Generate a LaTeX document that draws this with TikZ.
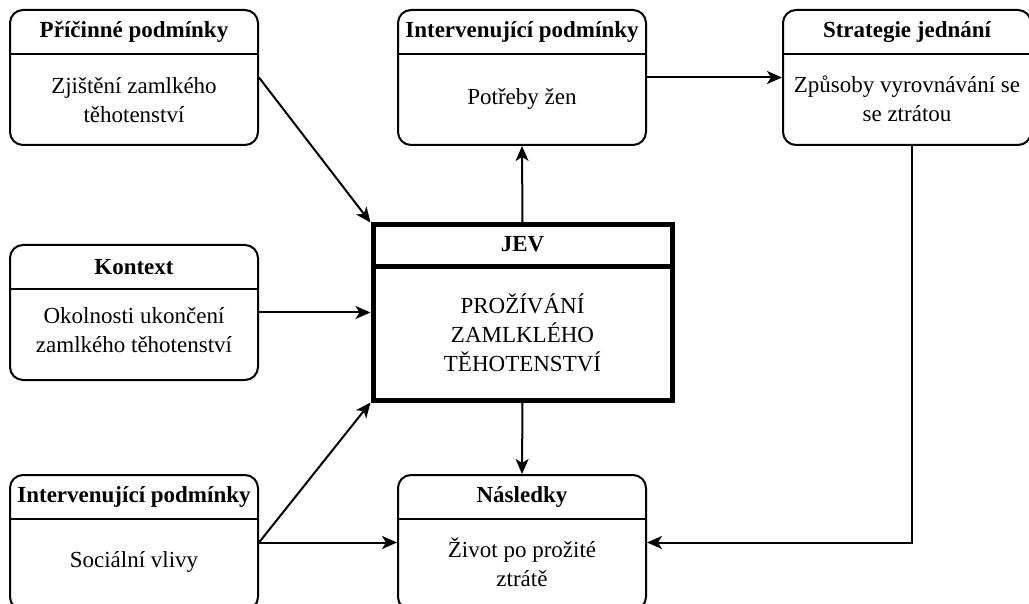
\documentclass[tikz,border=0pt]{standalone}
\usepackage{fontspec}
\setmainfont{Liberation Serif}
\usepackage{tikz}
\usetikzlibrary{arrows.meta,positioning,calc}
\tikzstyle{category}=[draw,rounded corners=13pt,line width=2pt,minimum width=248pt,minimum height=135pt,inner sep=0pt]
\tikzstyle{phenom}=[draw,line width=5pt,minimum width=299pt,minimum height=175pt,inner sep=0pt]
\tikzstyle{head}=[font=\bfseries\fontsize{23}{27}\selectfont]
\tikzstyle{body}=[align=center,font=\fontsize{23}{29}\selectfont]
\tikzstyle{link}=[line width=2pt,-{Stealth[length=15pt,width=13pt,inset=4pt]}]

\begin{document}
\begin{tikzpicture}[x=1pt,y=-1pt]
\useasboundingbox (0,0) rectangle (1029,604);
% categories
\node [category] (c1) at (134,77.5) {};
\node [category] (c2) at (522,77.5) {};
\node [category] (c3) at (907,77.5) {};
\node [category] (c4) at (134,312.5) {};
\node [category] (c5) at (134,542.5) {};
\node [category] (c6) at (522,542.5) {};
\node [phenom] (jev) at (522.5,312.5) {};
\foreach \b in {c1,c2,c3,c4,c5,c6}
  \draw [line width=2pt] ([yshift=-45pt]\b.north west) -- ([yshift=-45pt]\b.north east);
\draw [line width=5pt] ([yshift=-44pt]jev.north west) -- ([yshift=-44pt]jev.north east);
% texts
\node [head] (c1h) at ([yshift=-23pt]c1.north) {Příčinné podmínky};
\node [body] (c1b) at ([yshift=-91pt]c1.north) {Zjištění zamlkého\\těhotenství};
\node [head] (c2h) at ([yshift=-23pt]c2.north) {Intervenující podmínky};
\node [body] (c2b) at ([yshift=-90pt]c2.north) {Potřeby žen};
\node [head] (c3h) at ([yshift=-23pt]c3.north) {Strategie jednání};
\node [body] (c3b) at ([yshift=-90pt]c3.north) {Způsoby vyrovnávání se\\se ztrátou};
\node [head] (c4h) at ([yshift=-23pt]c4.north) {Kontext};
\node [body] (c4b) at ([yshift=-86pt]c4.north) {Okolnosti ukončení\\zamlkého těhotenství};
\node [head] (c5h) at ([yshift=-23pt]c5.north) {Intervenující podmínky};
\node [body] (c5b) at ([yshift=-88pt]c5.north) {Sociální vlivy};
\node [head] (c6h) at ([yshift=-23pt]c6.north) {Následky};
\node [body] (c6b) at ([yshift=-88pt]c6.north) {Život po prožité\\ztrátě};
\node [head] (jevh) at ([yshift=-22pt]jev.north) {JEV};
\node [body] (jevb) at ([yshift=-110pt]jev.north) {PROŽÍVÁNÍ\\ZAMLKLÉHO\\TĚHOTENSTVÍ};
% links
\draw [link] (c1.east) -- (jev.north west);
\draw [link] (jev.north) -- (c2.south);
\draw [link] (c2.east) -- (c3.west);
\draw [link] (c4.east) -- (jev.west);
\draw [link] (c5.east) -- (jev.south west);
\draw [link] (c5.east) -- (c6.west);
\draw [link] (jev.south) -- (c6.north);
\draw [link] ([xshift=5pt]c3.south) |- (c6.east);
\end{tikzpicture}
\end{document}
